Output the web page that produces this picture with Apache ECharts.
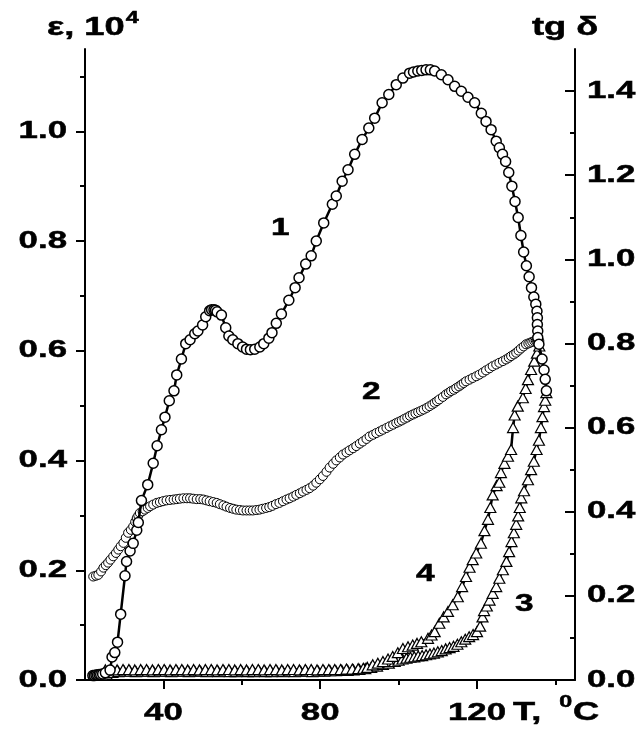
<!DOCTYPE html>
<html>
<head>
<meta charset="utf-8">
<script src="https://cdn.jsdelivr.net/npm/echarts@6/dist/echarts.min.js"></script>
<style>
  html, body { margin: 0; padding: 0; background: #fff; }
  #chart { width: 643px; height: 733px; }
</style>
</head>
<body>
<div id="chart"></div>
<script>
// Temperature axis ticks and labels
const T_RANGE = [20, 145];
const T_MAJOR = [40, 80, 120];
const T_MINOR = [60, 100, 140];
// Left axis: permittivity, units of 10^4
const EPS_RANGE = [0, 1.15];
const EPS_MAJOR = [0, 0.2, 0.4, 0.6, 0.8, 1.0];
const EPS_MINOR = [0.1, 0.3, 0.5, 0.7, 0.9, 1.1];
// Right axis: loss tangent
const TAN_RANGE = [0, 1.5];
const TAN_MAJOR = [0, 0.2, 0.4, 0.6, 0.8, 1.0, 1.2, 1.4];
const TAN_MINOR = [0.1, 0.3, 0.5, 0.7, 0.9, 1.1, 1.3];

// Curve 1: permittivity vs temperature
const t1 = [22.0, 22.4, 22.8, 23.2, 23.6, 24.0, 24.5, 25.2, 26.4, 26.9, 27.6, 28.3, 29.1, 30.2, 30.6, 31.5, 32.3, 33.2, 33.6, 34.4,
  36.0, 37.4, 38.4, 39.5, 40.4, 41.5, 42.7, 43.4, 44.6, 45.7, 46.8, 48.0, 48.8, 50.0, 50.8, 51.8, 52.3, 52.9, 53.3, 53.7,
  54.8, 55.9, 56.7, 57.7, 59.0, 60.2, 61.2, 62.2, 63.3, 64.6, 65.6, 66.9, 67.7, 68.8, 70.1, 72.0, 73.6, 74.6, 76.3, 77.7,
  79.0, 80.9, 83.1, 84.1, 85.6, 87.1, 88.8, 90.7, 92.4, 93.9, 95.8, 97.5, 99.4, 101.1, 102.8, 103.8, 104.9, 105.9, 107.0, 108.1,
  109.2, 110.9, 112.6, 114.3, 116.0, 117.7, 119.4, 121.1, 122.3, 123.6, 124.9, 125.7, 126.5, 127.3, 128.1, 128.9, 129.7, 130.5,
  131.2, 131.9, 132.6, 133.3, 133.9, 134.5, 135.0, 135.3, 135.4, 135.4, 135.5, 135.5, 135.8, 136.6, 137.1, 137.4, 137.7];
const eps1 = [0.008, 0.008, 0.009, 0.009, 0.010, 0.010, 0.011, 0.013, 0.018, 0.042, 0.050, 0.069, 0.120, 0.190, 0.216, 0.235, 0.249, 0.273, 0.287, 0.327,
  0.356, 0.395, 0.427, 0.456, 0.479, 0.509, 0.527, 0.556, 0.585, 0.613, 0.620, 0.631, 0.636, 0.647, 0.662, 0.673, 0.675, 0.675, 0.674, 0.671,
  0.665, 0.642, 0.627, 0.620, 0.613, 0.607, 0.603, 0.602, 0.603, 0.607, 0.613, 0.623, 0.633, 0.650, 0.667, 0.692, 0.715, 0.733, 0.758, 0.773,
  0.800, 0.833, 0.867, 0.882, 0.909, 0.930, 0.958, 0.985, 1.006, 1.024, 1.052, 1.067, 1.085, 1.097, 1.106, 1.108, 1.110, 1.111, 1.112, 1.112,
  1.110, 1.103, 1.094, 1.082, 1.073, 1.062, 1.052, 1.033, 1.018, 1.003, 0.982, 0.970, 0.958, 0.945, 0.925, 0.900, 0.872, 0.843,
  0.810, 0.780, 0.755, 0.735, 0.715, 0.698, 0.685, 0.672, 0.660, 0.648, 0.636, 0.624, 0.612, 0.585, 0.565, 0.548, 0.527];

// Curve 2: loss tangent (open circles, dense)
const t2 = [22.1, 22.8, 23.4, 24.1, 24.7, 25.3, 25.9, 26.5, 27.2, 27.9, 28.5, 29.1, 29.8, 30.4, 31.0, 31.7, 32.3, 32.8, 33.2, 33.6,
  34.0, 34.7, 35.3, 36.0, 36.6, 37.4, 38.3, 39.1, 39.9, 40.8, 41.7, 42.6, 43.4, 44.2, 45.1, 46.0, 46.8, 47.6, 48.5, 49.4,
  50.2, 51.0, 51.8, 52.7, 53.6, 54.4, 55.3, 56.1, 57.0, 57.8, 58.6, 59.5, 60.3, 61.2, 62.0, 62.8, 63.7, 64.5, 65.3, 66.2,
  67.0, 67.8, 68.7, 69.6, 70.5, 71.4, 72.2, 73.1, 73.9, 74.8, 75.6, 76.5, 77.3, 78.2, 79.0, 79.9, 80.7, 81.6, 82.4, 83.3,
  84.1, 85.0, 85.8, 86.7, 87.5, 88.4, 89.2, 90.1, 90.9, 91.8, 92.6, 93.5, 94.3, 95.2, 96.0, 96.9, 97.7, 98.6, 99.4, 100.1,
  100.8, 101.5, 102.2, 102.9, 103.6, 104.3, 105.0, 105.7, 106.4, 107.2, 107.9, 108.6, 109.2, 109.8, 110.4, 111.3, 112.1, 112.8, 113.4, 114.1,
  114.7, 115.4, 116.0, 116.6, 117.2, 118.1, 118.9, 119.8, 120.6, 121.5, 122.3, 123.2, 124.0, 124.9, 125.7, 126.6, 127.4, 128.1, 128.7, 129.4,
  130.0, 130.6, 131.2, 131.9, 132.5, 133.1, 133.6, 134.1, 134.6, 135.0, 135.3, 135.6, 135.9];
const tan2 = [0.246, 0.248, 0.250, 0.258, 0.267, 0.273, 0.279, 0.286, 0.294, 0.302, 0.310, 0.318, 0.326, 0.338, 0.350, 0.357, 0.365, 0.376, 0.385, 0.391,
  0.397, 0.401, 0.405, 0.409, 0.413, 0.417, 0.421, 0.423, 0.425, 0.427, 0.428, 0.429, 0.430, 0.431, 0.432, 0.432, 0.432, 0.431, 0.430, 0.430,
  0.429, 0.427, 0.425, 0.423, 0.421, 0.418, 0.415, 0.412, 0.409, 0.407, 0.405, 0.404, 0.403, 0.403, 0.403, 0.403, 0.404, 0.405, 0.407, 0.409,
  0.411, 0.414, 0.418, 0.421, 0.425, 0.429, 0.432, 0.436, 0.440, 0.444, 0.448, 0.452, 0.456, 0.462, 0.469, 0.477, 0.485, 0.495, 0.505, 0.514,
  0.522, 0.529, 0.536, 0.541, 0.546, 0.551, 0.556, 0.562, 0.567, 0.573, 0.579, 0.583, 0.587, 0.591, 0.595, 0.599, 0.603, 0.607, 0.611, 0.614,
  0.617, 0.621, 0.624, 0.628, 0.631, 0.634, 0.637, 0.640, 0.643, 0.647, 0.651, 0.655, 0.659, 0.663, 0.667, 0.673, 0.679, 0.683, 0.687, 0.690,
  0.694, 0.698, 0.702, 0.706, 0.710, 0.714, 0.718, 0.722, 0.726, 0.731, 0.736, 0.741, 0.746, 0.750, 0.754, 0.758, 0.762, 0.766, 0.770, 0.774,
  0.778, 0.783, 0.788, 0.793, 0.798, 0.800, 0.802, 0.804, 0.806, 0.807, 0.807, 0.807, 0.806];

// Curve 3: loss tangent (triangles, lower branch)
const t3 = [24.5, 25.5, 27.0, 28.5, 30.0, 31.5, 33.0, 34.5, 36.0, 37.5, 39.0, 40.5, 42.0, 43.5, 45.0, 46.5, 48.0, 49.5, 51.0, 52.5,
  54.0, 55.5, 57.0, 58.5, 60.0, 61.5, 63.0, 64.5, 66.0, 67.5, 69.0, 70.5, 72.0, 73.5, 75.0, 76.5, 78.0, 79.5, 81.0, 82.5,
  84.0, 85.5, 87.0, 88.5, 90.0, 91.5, 93.0, 94.5, 96.0, 97.5, 99.0, 100.0, 101.0, 102.0, 103.0, 104.0, 105.0, 106.0, 107.0, 108.0,
  109.0, 110.0, 111.0, 112.0, 113.0, 114.0, 115.0, 116.0, 117.0, 118.0, 119.0, 120.0, 120.8, 121.4, 121.8, 122.5, 123.2, 124.0, 124.9, 125.7,
  126.6, 127.5, 128.2, 128.8, 129.4, 130.0, 130.5, 130.9, 131.3, 132.0, 133.0, 133.8, 134.5, 135.2, 135.8, 136.3, 136.7, 137.1, 137.4, 137.7];
const tan3 = [0.012, 0.014, 0.018, 0.020, 0.021, 0.021, 0.020, 0.021, 0.021, 0.020, 0.021, 0.021, 0.020, 0.021, 0.021, 0.020, 0.021, 0.021, 0.020, 0.021,
  0.020, 0.021, 0.020, 0.020, 0.021, 0.020, 0.020, 0.021, 0.020, 0.020, 0.021, 0.020, 0.021, 0.020, 0.021, 0.021, 0.020, 0.021, 0.021, 0.022,
  0.022, 0.023, 0.023, 0.024, 0.025, 0.027, 0.030, 0.033, 0.037, 0.040, 0.044, 0.047, 0.050, 0.052, 0.054, 0.055, 0.057, 0.058, 0.060, 0.062,
  0.064, 0.067, 0.070, 0.074, 0.077, 0.080, 0.085, 0.091, 0.097, 0.103, 0.108, 0.115, 0.128, 0.150, 0.165, 0.176, 0.190, 0.206, 0.222, 0.242,
  0.262, 0.282, 0.305, 0.329, 0.350, 0.370, 0.390, 0.410, 0.433, 0.450, 0.476, 0.500, 0.520, 0.548, 0.570, 0.600, 0.626, 0.650, 0.665, 0.683];

// Curve 4: loss tangent (triangles, upper branch)
const t4 = [25.2, 26.7, 28.2, 29.7, 31.2, 32.7, 34.2, 35.7, 37.2, 38.7, 40.2, 41.7, 43.2, 44.7, 46.2, 47.7, 49.2, 50.7, 52.2, 53.7,
  55.2, 56.7, 58.2, 59.7, 61.2, 62.7, 64.2, 65.7, 67.2, 68.7, 70.2, 71.7, 73.2, 74.7, 76.2, 77.7, 79.2, 80.7, 82.2, 83.7,
  85.2, 86.7, 88.2, 89.7, 91.0, 92.0, 93.4, 94.7, 96.0, 97.3, 98.5, 99.8, 101.1, 102.4, 103.6, 104.7, 105.8, 107.5, 108.4, 109.2,
  110.4, 111.5, 112.6, 113.8, 115.1, 116.2, 117.2, 118.1, 118.9, 119.8, 121.0, 121.9, 122.8, 123.4, 124.0, 125.0, 125.7, 126.1, 127.0, 127.9,
  128.7, 129.2, 129.6, 130.4, 131.7, 132.4, 133.0, 133.8, 134.6, 135.3, 135.9];
const tan4 = [0.024, 0.025, 0.024, 0.025, 0.025, 0.024, 0.025, 0.025, 0.024, 0.025, 0.025, 0.024, 0.025, 0.025, 0.024, 0.025, 0.024, 0.025, 0.025, 0.024,
  0.025, 0.025, 0.024, 0.025, 0.024, 0.025, 0.025, 0.024, 0.025, 0.025, 0.024, 0.025, 0.025, 0.024, 0.025, 0.025, 0.024, 0.025, 0.025, 0.025,
  0.025, 0.026, 0.026, 0.027, 0.028, 0.030, 0.036, 0.040, 0.044, 0.050, 0.056, 0.065, 0.075, 0.079, 0.083, 0.087, 0.091, 0.099, 0.107, 0.115,
  0.135, 0.150, 0.163, 0.179, 0.198, 0.222, 0.246, 0.268, 0.286, 0.302, 0.325, 0.355, 0.382, 0.410, 0.440, 0.462, 0.470, 0.493, 0.515, 0.532,
  0.548, 0.600, 0.630, 0.651, 0.671, 0.693, 0.714, 0.738, 0.758, 0.777, 0.794];

const pairs = (xs, ys) => xs.map((x, i) => [x, ys[i]]);

const ink = '#000';
const FAMILY = '"Liberation Sans", Arial, sans-serif';
const STRETCH = 1.45;           // horizontal stretch applied to the bold lettering
const TICK_FONT = 24;
const gridBox = { left: 85, right: 68, top: 49, bottom: 53 };
const axisPen = { color: ink, width: 2 };

const chart = echarts.init(document.getElementById('chart'), null, { renderer: 'canvas' });

const hiddenLabel = { show: false };
chart.setOption({
  animation: false,
  backgroundColor: '#fff',
  grid: [Object.assign({}, gridBox), Object.assign({}, gridBox)],
  xAxis: [
    {
      type: 'value', gridIndex: 0, position: 'bottom', min: T_RANGE[0], max: T_RANGE[1],
      axisLine: { show: true, lineStyle: axisPen },
      axisTick: { show: true, customValues: T_MAJOR, length: 9, lineStyle: axisPen },
      axisLabel: hiddenLabel, splitLine: { show: false }
    },
    {
      type: 'value', gridIndex: 1, position: 'bottom', min: T_RANGE[0], max: T_RANGE[1],
      axisLine: { show: false },
      axisTick: { show: true, customValues: T_MINOR, length: 5, lineStyle: axisPen },
      axisLabel: hiddenLabel, splitLine: { show: false }
    }
  ],
  yAxis: [
    {
      type: 'value', gridIndex: 0, position: 'left', min: EPS_RANGE[0], max: EPS_RANGE[1],
      axisLine: { show: true, lineStyle: axisPen },
      axisTick: { show: true, customValues: EPS_MAJOR, length: 9, lineStyle: axisPen },
      axisLabel: hiddenLabel, splitLine: { show: false }
    },
    {
      type: 'value', gridIndex: 0, position: 'right', min: TAN_RANGE[0], max: TAN_RANGE[1],
      axisLine: { show: true, lineStyle: axisPen },
      axisTick: { show: true, inside: true, customValues: TAN_MAJOR, length: 10, lineStyle: axisPen },
      axisLabel: hiddenLabel, splitLine: { show: false }
    },
    {
      type: 'value', gridIndex: 1, position: 'left', min: EPS_RANGE[0], max: EPS_RANGE[1],
      axisLine: { show: false },
      axisTick: { show: true, customValues: EPS_MINOR, length: 5, lineStyle: axisPen },
      axisLabel: hiddenLabel, splitLine: { show: false }
    },
    {
      type: 'value', gridIndex: 1, position: 'right', min: TAN_RANGE[0], max: TAN_RANGE[1],
      axisLine: { show: false },
      axisTick: { show: true, inside: true, customValues: TAN_MINOR, length: 5, lineStyle: axisPen },
      axisLabel: hiddenLabel, splitLine: { show: false }
    }
  ],
  series: [
    {
      name: '2', type: 'line', xAxisIndex: 0, yAxisIndex: 1, data: pairs(t2, tan2),
      symbol: 'circle', symbolSize: 9, showAllSymbol: true, z: 2,
      itemStyle: { color: '#fff', borderColor: ink, borderWidth: 1 },
      lineStyle: { color: ink, width: 1 }
    },
    {
      name: '3', type: 'line', xAxisIndex: 0, yAxisIndex: 1, data: pairs(t3, tan3),
      symbol: 'triangle', symbolSize: [11, 10], showAllSymbol: true, z: 3,
      itemStyle: { color: '#fff', borderColor: ink, borderWidth: 1.2 },
      lineStyle: { color: ink, width: 2.5 }
    },
    {
      name: '4', type: 'line', xAxisIndex: 0, yAxisIndex: 1, data: pairs(t4, tan4),
      symbol: 'triangle', symbolSize: [11, 10], showAllSymbol: true, z: 3,
      itemStyle: { color: '#fff', borderColor: ink, borderWidth: 1.2 },
      lineStyle: { color: ink, width: 2.5 }
    },
    {
      name: '1', type: 'line', xAxisIndex: 0, yAxisIndex: 0, data: pairs(t1, eps1),
      symbol: 'circle', symbolSize: 10, showAllSymbol: true, z: 4,
      itemStyle: { color: '#fff', borderColor: ink, borderWidth: 1.5 },
      lineStyle: { color: ink, width: 2.5 }
    }
  ]
});

// ---- lettering: stretched bold text placed from the axis scales ----
const ctx2d = document.createElement('canvas').getContext('2d');
const fontOf = size => `bold ${size}px ${FAMILY}`;
const widthOf = (text, size) => { ctx2d.font = fontOf(size); return ctx2d.measureText(text).width * STRETCH; };

function label(text, x, y, size, align) {
  return {
    type: 'text', x: x, y: y, scaleX: STRETCH, z: 100,
    style: {
      text: text, font: fontOf(size), fill: ink, stroke: ink, lineWidth: 0.5,
      align: align, verticalAlign: 'middle',
      textAlign: align, textVerticalAlign: 'middle'
    }
  };
}
// a run of pieces written left to right; dy raises superscripts
function run(x, y, pieces) {
  const out = [];
  let cx = x;
  pieces.forEach(p => {
    out.push(label(p.text, cx + (p.gap || 0), y + (p.dy || 0), p.size, 'left'));
    cx += (p.gap || 0) + widthOf(p.text, p.size);
  });
  return out;
}

const fmt = v => v.toFixed(1);
const xAxisY = chart.convertToPixel({ yAxisIndex: 0 }, 0);
const leftX = chart.convertToPixel({ xAxisIndex: 0 }, T_RANGE[0]);
const rightX = chart.convertToPixel({ xAxisIndex: 0 }, T_RANGE[1]);

const texts = [];
EPS_MAJOR.forEach(v => texts.push(label(fmt(v), leftX - 18, chart.convertToPixel({ yAxisIndex: 0 }, v), TICK_FONT, 'right')));
TAN_MAJOR.forEach(v => texts.push(label(fmt(v), rightX + 12, chart.convertToPixel({ yAxisIndex: 1 }, v), TICK_FONT, 'left')));
T_MAJOR.forEach(v => {
  const s = String(v);
  const px = chart.convertToPixel({ xAxisIndex: 0 }, v);
  texts.push(label(s, px - widthOf(s, TICK_FONT) / 2, xAxisY + 33, TICK_FONT, 'left'));
});

// axis titles
run(47, 28, [{ text: 'ε, 10', size: 25 }, { text: '4', size: 16, dy: -9, gap: 1 }]).forEach(t => texts.push(t));
run(532, 28, [{ text: 'tg δ', size: 25 }]).forEach(t => texts.push(t));
run(513, xAxisY + 33, [{ text: 'T,', size: 25 }, { text: '0', size: 16, dy: -10, gap: 18 }, { text: 'C', size: 25, gap: 1 }]).forEach(t => texts.push(t));

// curve numbers
run(271, 229, [{ text: '1', size: 23 }]).forEach(t => texts.push(t));
run(362, 393, [{ text: '2', size: 23 }]).forEach(t => texts.push(t));
run(416, 575, [{ text: '4', size: 23 }]).forEach(t => texts.push(t));
run(515, 605, [{ text: '3', size: 23 }]).forEach(t => texts.push(t));

chart.setOption({ graphic: texts });
</script>
</body>
</html>
